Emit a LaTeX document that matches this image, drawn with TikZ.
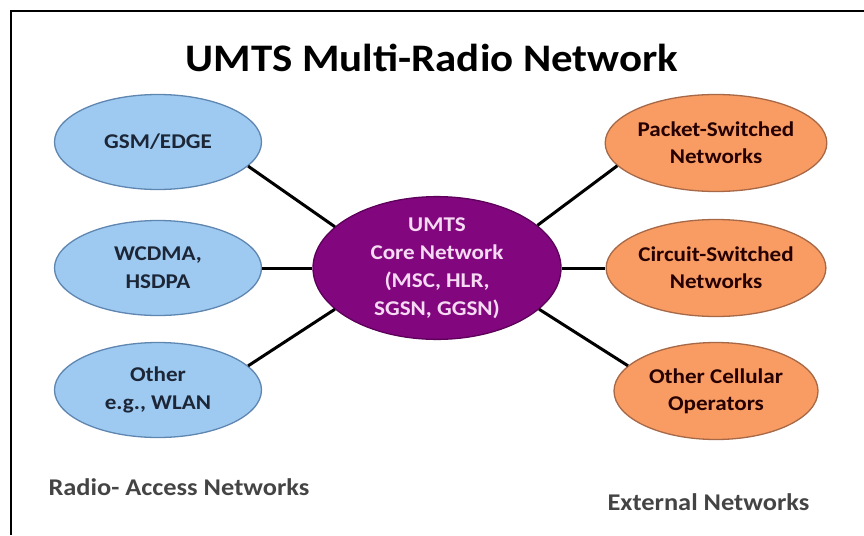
\documentclass[tikz,border=0pt]{standalone}
\usepackage{fontspec}
\setmainfont[FakeStretch=1.1]{Carlito}
\usetikzlibrary{shapes.geometric}
\definecolor{azul}{HTML}{9ECAF2}
\definecolor{azulborda}{HTML}{5F86B0}
\definecolor{laranja}{HTML}{F89C63}
\definecolor{laranjaborda}{HTML}{A66846}
\definecolor{roxo}{HTML}{82077F}
\definecolor{roxoborda}{HTML}{5C0059}
\definecolor{rosa}{HTML}{F6DAF3}
\definecolor{marinho}{HTML}{1C2636}
\definecolor{cinza}{HTML}{444444}
\begin{document}
\begin{tikzpicture}[x=1pt,y=-1pt,
 radio/.style={ellipse,draw=azulborda,fill=azul,line width=1.3pt,minimum width=207pt,minimum height=95pt,inner sep=0pt,align=center,text=marinho,font=\bfseries\fontsize{21}{28}\selectfont},
 externa/.style={ellipse,draw=laranjaborda,fill=laranja,line width=1.3pt,minimum width=204pt,minimum height=97pt,inner sep=0pt,align=center,text=black!85!red,font=\bfseries\fontsize{21}{27}\selectfont},
 linha/.style={line width=3pt,black}]
\useasboundingbox (0,0) rectangle (864,535);
%moldura
 \draw[line width=2.5pt] (11,535) -- (11,11) -- (864,11);
%título
 \node (titulo) at (432,58) {\bfseries\fontsize{39}{41}\selectfont UMTS Multi-Radio Network};
%redes de acesso (esquerda)
 \node[radio] (gsm) at (158,142) {GSM/EDGE};
 \node[radio] (wcdma) at (158,268) {WCDMA,\\HSDPA};
 \node[radio] (wlan) at (158,390) {Other\\e.g., WLAN};
%núcleo
 \node[ellipse,draw=roxoborda,fill=roxo,line width=1.3pt,minimum width=248pt,minimum height=132pt,inner sep=0pt,align=center,text=rosa,font=\bfseries\fontsize{21}{28}\selectfont] (core) at (437,268) {UMTS\\Core Network\\(MSC, HLR,\\SGSN, GGSN)};
%redes externas (direita)
 \node[externa] (pacote) at (716,143) {Packet-Switched\\Networks};
 \node[externa] (circuito) at (716,268) {Circuit-Switched\\Networks};
 \node[externa] (celular) at (716,391) {Other Cellular\\Operators};
%ligações
 \draw[linha] (gsm.-15) -- (core.158);
 \draw[linha] (wcdma.east) -- (core.west);
 \draw[linha] (wlan.15) -- (core.-158);
 \draw[linha] (core.23) -- (pacote.-167);
 \draw[linha] (core.east) -- (circuito.west);
 \draw[linha] (core.-22) -- (celular.164);
%legendas
 \node[anchor=base west,text=cinza,font=\bfseries\fontsize{24}{26}\selectfont] (acesso) at (45,495) {Radio- Access Networks};
 \node[anchor=base west,text=cinza,font=\bfseries\fontsize{24}{26}\selectfont] (externas) at (604,510) {External Networks};
\end{tikzpicture}
\end{document}
